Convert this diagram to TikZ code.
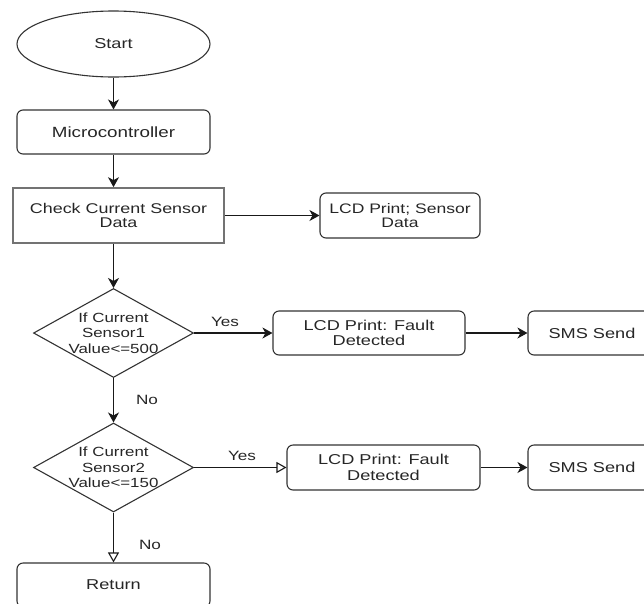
\documentclass[tikz,border=0pt]{standalone}
\usepackage{fontspec}
\setmainfont{Liberation Sans}[FakeStretch=1.27]
\usetikzlibrary{arrows.meta, shapes.geometric, positioning}

\begin{document}
\begin{tikzpicture}[x=1pt, y=-1pt,
    flow/.style={draw=black!80, line width=1.1pt, text=black!85, align=center, inner sep=0pt, font=\fontsize{14.3}{15.5}\selectfont},
    terminal/.style={flow, ellipse, minimum width=193pt, minimum height=66pt},
    process/.style={flow, rectangle, rounded corners=6pt, minimum height=44pt},
    decision/.style={flow, diamond, minimum width=160pt, minimum height=89pt},
    dtext/.style={text=black!85, align=center, inner sep=0pt, font=\fontsize{13.3}{15.5}\selectfont},
    lbl/.style={text=black!85, inner sep=0pt, font=\fontsize{13.5}{15}\selectfont},
    arr/.style={draw=black!90, line width=1.1pt, -{Stealth[length=10pt, width=11pt, inset=3pt]}},
    openarr/.style={draw=black!90, line width=1.1pt, -{Triangle[open, length=10pt, width=11pt, fill=white]}}
]
    \useasboundingbox (0,0) rectangle (644,603);
    \clip (0,0) rectangle (644,603);

    % Main column
    \node[terminal] (start) at (113.5,44) {Start};
    \node[process, minimum width=193pt, font=\fontsize{14.8}{15.5}\selectfont] (micro) at (113.5,132) {Microcontroller};
    \node[flow, draw=black!55, line width=1.7pt, minimum width=211pt, minimum height=55pt,
          font=\fontsize{14.1}{13.5}\selectfont] (check) at (118.5,215.5) {Check Current Sensor\\Data};
    \node[process, minimum width=160pt, minimum height=45pt, font=\fontsize{13.8}{14.5}\selectfont] (lcd0) at (400,215.5) {LCD Print; Sensor\\Data};

    % First sensor test
    \node[decision, label={[dtext]center:If Current\\Sensor1\\Value<=500}] (dec1) at (113.5,333) {};
    \node[process, minimum width=192pt] (fault1) at (369,333) {LCD Print: Fault\\Detected};
    \node[process, minimum width=128pt] (sms1) at (592,333) {SMS Send};

    % Second sensor test
    \node[decision, label={[dtext]center:If Current\\Sensor2\\Value<=150}] (dec2) at (113.5,467.5) {};
    \node[process, minimum width=193pt, minimum height=45pt] (fault2) at (383.5,467.5) {LCD Print: Fault\\Detected};
    \node[process, minimum width=128pt, minimum height=45pt] (sms2) at (592,467.5) {SMS Send};

    \node[process, minimum width=193pt] (ret) at (113.5,585) {Return};

    % Connectors
    \draw[arr] (start) -- (micro);
    \draw[arr] (micro) -- (micro.south |- check.north);
    \draw[arr] (check) -- (lcd0);
    \draw[arr] (check.south -| dec1) -- (dec1);
    \draw[arr] (dec1) -- (fault1);
    \draw[arr] (fault1) -- (sms1);
    \draw[arr] (dec1) -- (dec2);
    \draw[openarr] (dec2) -- (fault2);
    \draw[arr] (fault2) -- (sms2);
    \draw[openarr] (dec2) -- (ret);

    % Branch labels
    \node[lbl] (yes1) at (225,322) {Yes};
    \node[lbl] (no1) at (147,400) {No};
    \node[lbl] (yes2) at (242,456) {Yes};
    \node[lbl] (no2) at (150,545) {No};
\end{tikzpicture}
\end{document}
